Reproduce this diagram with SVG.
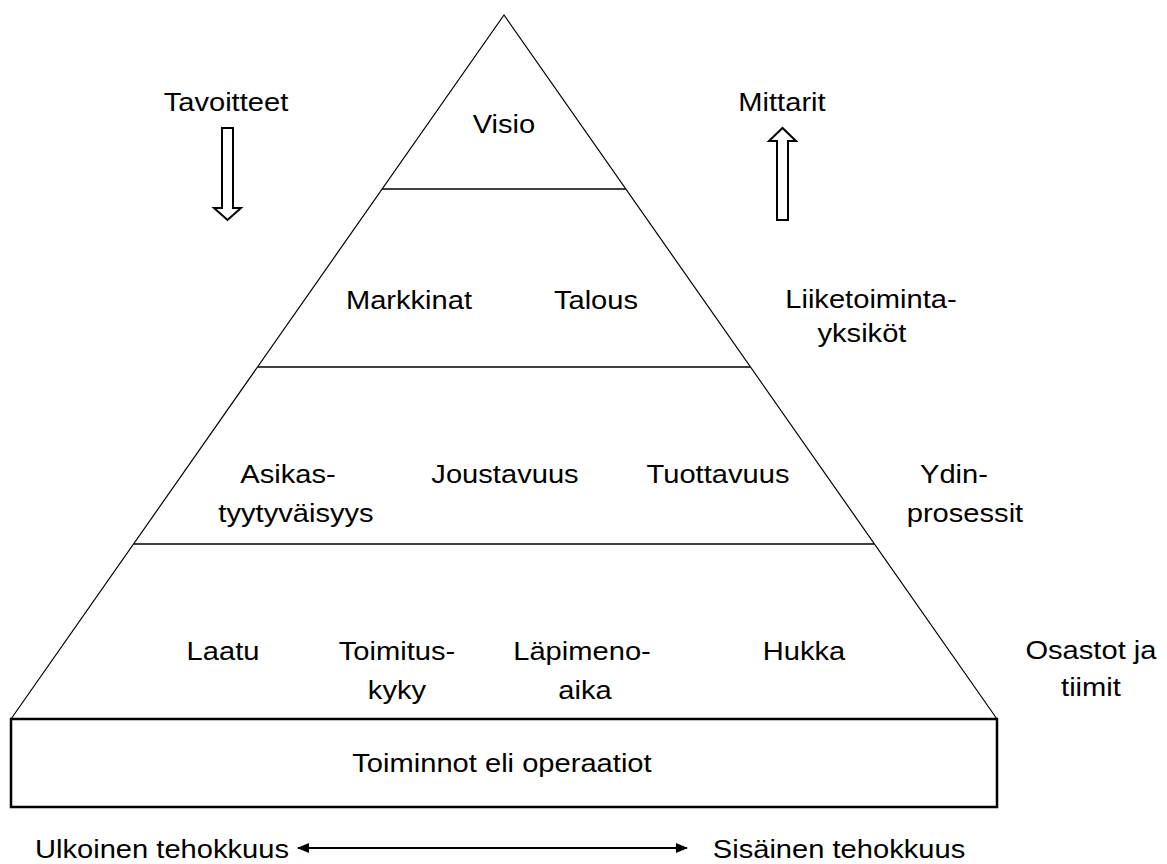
<svg xmlns="http://www.w3.org/2000/svg" width="1167" height="864" viewBox="0 0 1167 864">
  <defs>
    <marker id="head" viewBox="0 0 12 10" refX="11" refY="5" markerWidth="12" markerHeight="10" markerUnits="userSpaceOnUse" orient="auto-start-reverse">
      <path d="M0,0 L12,5 L0,10 z" fill="#000"/>
    </marker>
  </defs>
  <style>
    text { font-family: "Liberation Sans", Arial, sans-serif; font-size: 26px; fill: #000; text-anchor: middle;
           transform-box: fill-box; transform-origin: center; transform: scaleX(1.12); }
    .edge { stroke: #000; stroke-width: 1.2; fill: none; }
    .tier { stroke: #000; stroke-width: 1.6; fill: none; }
    .box { stroke: #000; stroke-width: 2.5; fill: #fff; }
    .hollow { stroke: #000; stroke-width: 2; fill: #fff; stroke-linejoin: miter; }
  </style>
  <rect width="1167" height="864" fill="#fff"/>

  <!-- pyramid outline and tier dividers -->
  <g id="pyramid">
    <polyline class="edge" points="11,719 504,15 997,719"/>
    <line class="tier" x1="382" y1="189" x2="626" y2="189"/>
    <line class="tier" x1="258" y1="367" x2="750" y2="367"/>
    <line class="tier" x1="134" y1="544" x2="874" y2="544"/>
  </g>

  <!-- base block -->
  <g id="operations">
    <rect class="box" x="11" y="719" width="986" height="88"/>
    <text x="502" y="772">Toiminnot eli operaatiot</text>
  </g>

  <g id="vision"><text x="504" y="133">Visio</text></g>

  <g id="level-business">
    <text x="409" y="309">Markkinat</text>
    <text x="596" y="309">Talous</text>
  </g>
  <g id="label-business-units">
    <text x="871" y="308">Liiketoiminta-</text>
    <text x="862" y="342">yksiköt</text>
  </g>

  <g id="level-processes">
    <text x="288" y="483">Asikas-</text>
    <text x="296" y="522">tyytyväisyys</text>
    <text x="505" y="483">Joustavuus</text>
    <text x="718" y="483">Tuottavuus</text>
  </g>
  <g id="label-core-processes">
    <text x="954" y="483">Ydin-</text>
    <text x="965" y="522">prosessit</text>
  </g>

  <g id="level-departments">
    <text x="223" y="660">Laatu</text>
    <text x="397" y="660">Toimitus-</text>
    <text x="397" y="699">kyky</text>
    <text x="582" y="660">Läpimeno-</text>
    <text x="585" y="699">aika</text>
    <text x="804" y="660">Hukka</text>
  </g>
  <g id="label-departments">
    <text x="1091" y="659">Osastot ja</text>
    <text x="1091" y="696">tiimit</text>
  </g>

  <g id="goals">
    <text x="226" y="111">Tavoitteet</text>
    <polygon class="hollow" points="222,128 233,128 233,208 241,208 227.5,220 214,208 222,208"/>
  </g>
  <g id="metrics">
    <text x="782" y="111">Mittarit</text>
    <polygon class="hollow" points="777,220 788,220 788,141 796,141 782.5,128 769,141 777,141"/>
  </g>

  <g id="efficiency-labels">
    <text x="162" y="858">Ulkoinen tehokkuus</text>
    <text x="839" y="858">Sisäinen tehokkuus</text>
  </g>

  <g id="connectors">
    <line x1="298" y1="848" x2="687" y2="848" stroke="#000" stroke-width="2.2" marker-start="url(#head)" marker-end="url(#head)"/>
  </g>
</svg>
